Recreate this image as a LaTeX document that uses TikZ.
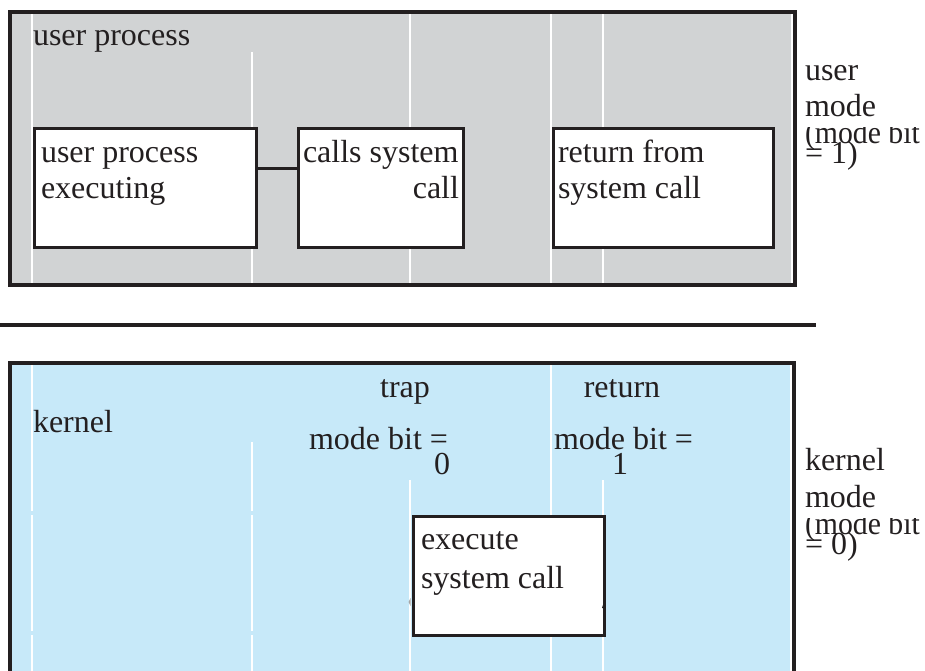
\documentclass[tikz,border=0pt]{standalone}
\usepackage{fontspec}
\setmainfont{Liberation Serif}
\definecolor{ink}{RGB}{35,31,32}
\definecolor{userbg}{RGB}{209,211,212}
\definecolor{kernbg}{RGB}{199,233,249}
\begin{document}
\begin{tikzpicture}[x=1pt,y=-1pt,
  txt/.style={inner sep=0pt, outer sep=0pt, font=\fontsize{32}{36}\selectfont, text=ink},
  frame/.style={draw=ink, line width=3.5pt},
  box/.style={draw=ink, fill=white, line width=3pt, inner sep=0pt, anchor=north west},
  wline/.style={draw=white, line width=1.3pt},
  link/.style={draw=ink, line width=3pt}]
\useasboundingbox (0,0) rectangle (925,670);
\begin{scope}
\clip (0,0) rectangle (925,670);

% ---- user mode panel ----
\fill[userbg] (10,12) rectangle (795,285);
\draw[wline] (32,12) -- (32,285);
\draw[wline] (252,52) -- (252,285);
\draw[wline] (410,12) -- (410,285);
\draw[wline] (551,12) -- (551,285);
\draw[wline] (603,12) -- (603,285);
\draw[wline] (792,12) -- (792,285);
\draw[frame] (10,12) rectangle (795,285);

\node[txt, anchor=base west] (uptitle) at (33,45) {user process};

\node[box, minimum width=222pt, minimum height=119pt] (ue) at (33,127) {};
\node[box, minimum width=165pt, minimum height=119pt] (cs) at (297,127) {};
\node[box, minimum width=220pt, minimum height=119pt] (rf) at (552,127) {};
\draw[link] ([yshift=19.5pt]ue.east) -- ([yshift=19.5pt]cs.west);

\node[txt, anchor=base west] (ue1) at (41,162) {user process};
\node[txt, anchor=base west] (ue2) at (41,198) {executing};
\node[txt, anchor=base west] (cs1) at (303,162) {calls system};
\node[txt, anchor=base east] (cs2) at (459,198) {call};
\node[txt, anchor=base west] (rf1) at (558,162) {return from};
\node[txt, anchor=base west] (rf2) at (558,198) {system call};

% ---- separator ----
\coordinate (sepL) at (0,325);
\coordinate (sepR) at (816,325);
\draw[draw=ink, line width=3.5pt] (sepL) -- (sepR);

% ---- kernel mode panel ----
\fill[kernbg] (10,363) rectangle (794,675);
\draw[wline] (32,363) -- (32,511);
\draw[wline] (32,515) -- (32,631);
\draw[wline] (32,635) -- (32,675);
\draw[wline] (252,442) -- (252,511);
\draw[wline] (252,515) -- (252,631);
\draw[wline] (252,635) -- (252,675);
\draw[wline] (410,480) -- (410,675);
\draw[wline] (551,363) -- (551,675);
\draw[wline] (603,480) -- (603,675);
\draw[wline] (791,363) -- (791,675);
\draw[frame] (10,675) -- (10,363) -- (794,363) -- (794,675);

\node[txt, anchor=base] (trap) at (405,397) {trap};
\node[txt, anchor=base west] (kern) at (33,432) {kernel};
\node[txt, anchor=base west] (mb0) at (309,449) {mode bit =};
\node[txt, anchor=base] (mb0v) at (442,474) {0};
\node[txt, anchor=base] (ret) at (622,397) {return};
\node[txt, anchor=base west] (mb1) at (554,449) {mode bit =};
\node[txt, anchor=base] (mb1v) at (620,474) {1};

\node[box, minimum width=191pt, minimum height=119pt] (ex) at (412,515) {};
\node[txt, anchor=base west] (ex1) at (421,549) {execute};
\node[txt, anchor=base west] (ex2) at (421,588) {system call};
% stubs of the trap / return arrows on the box edges
\fill[ink] ([xshift=-4pt,yshift=-93pt]ex.north east) -- ([xshift=-1.5pt,yshift=-85pt]ex.north east) -- ([xshift=-1.5pt,yshift=-93pt]ex.north east) -- cycle;
\fill[black!35] ([xshift=-1.5pt,yshift=-83pt]ex.north west) -- ([xshift=-1.5pt,yshift=-91pt]ex.north west) -- ([xshift=-3.5pt,yshift=-87pt]ex.north west) -- cycle;

% ---- side labels ----
\node[txt, anchor=base west] (um1) at (805,80) {user};
\node[txt, anchor=base west] (um2) at (805,116) {mode};
\begin{scope}
\clip (800,127.5) rectangle (925,170);
\node[txt, anchor=base west] (um3) at (805,143) {\scalebox{0.93}[1]{(mode bit}};
\end{scope}
\node[txt, anchor=base west] (um4) at (805,163) {= 1)};

\node[txt, anchor=base west] (km1) at (805,470) {kernel};
\node[txt, anchor=base west] (km2) at (805,507) {mode};
\begin{scope}
\clip (800,518.5) rectangle (925,560);
\node[txt, anchor=base west] (km3) at (805,534) {\scalebox{0.93}[1]{(mode bit}};
\end{scope}
\node[txt, anchor=base west] (km4) at (805,554) {= 0)};
\end{scope}
\end{tikzpicture}
\end{document}
